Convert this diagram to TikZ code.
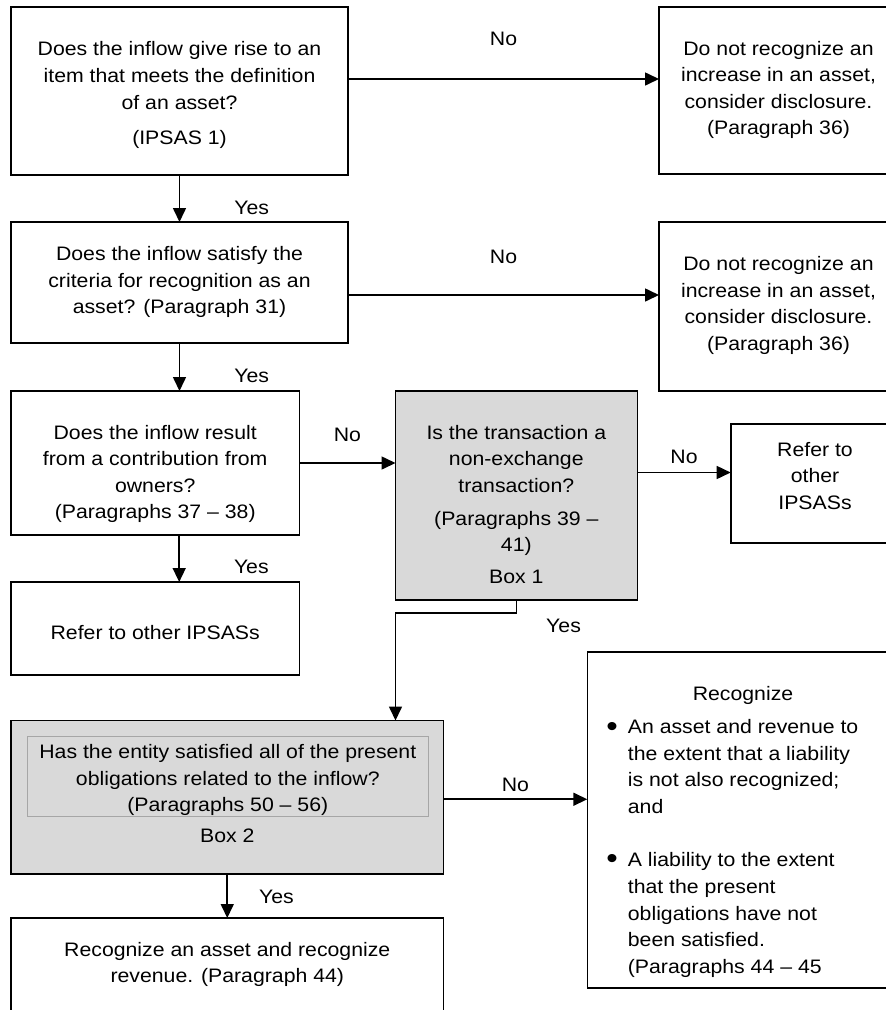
\documentclass[tikz,border=0pt]{standalone}
\usepackage{fontspec}
\setmainfont{Liberation Sans}[FakeStretch=1.09]
\usetikzlibrary{arrows.meta,positioning}
\definecolor{boxgray}{HTML}{D9D9D9}
\definecolor{rimgray}{HTML}{A6A6A6}
\newcommand\flowfont{\fontsize{19.5}{26.6}\selectfont}
\tikzset{
  box/.style={draw, line width=1.6pt, anchor=north west, inner sep=0pt, outer sep=0pt},
  txt/.style={font=\flowfont, align=center, inner sep=0pt},
  lbl/.style={font=\flowfont, inner sep=0pt},
  dot/.style={font=\fontsize{30}{30}\selectfont, inner sep=0pt, anchor=base},
  flow/.style={-{Triangle[length=14pt,width=13pt]}, line width=1.6pt},
}
\begin{document}
\begin{tikzpicture}[x=1pt, y=-1pt]
    \useasboundingbox (0,0) rectangle (886,1010);
    \clip (0,0) rectangle (886,1010);
    % boxes
    \node[box, minimum width=337pt, minimum height=168pt] (defbox) at (11,7) {};
    \node[box, minimum width=260pt, minimum height=167pt] (nodefa) at (659,7) {};
    \node[box, minimum width=337pt, minimum height=121pt] (critbox) at (11,222) {};
    \node[box, minimum width=260pt, minimum height=169pt] (nodefb) at (659,222) {};
    \node[box, minimum width=288.4pt, minimum height=144pt] (ownbox) at (11,391) {};
    \node[box, fill=boxgray, minimum width=241.8pt, minimum height=209pt] (nxbox) at (395.5,391) {};
    \node[box, minimum width=200pt, minimum height=119pt] (otherbox) at (730.7,424) {};
    \node[box, minimum width=288.4pt, minimum height=93pt] (refbox) at (11,582) {};
    \node[box, fill=boxgray, minimum width=432.5pt, minimum height=153.5pt] (presbox) at (11,720.5) {};
    \node[box, draw=rimgray, line width=1pt, fill=boxgray, minimum width=400.3pt, minimum height=80pt] (presq) at (27.7,736.7) {};
    \node[box, minimum width=320pt, minimum height=336.3pt] (recbox) at (587.3,651.7) {};
    \node[box, minimum width=432.5pt, minimum height=120pt] (revbox) at (11,918) {};
    % texts
    \node[txt] (deftext) at (179.5,95) {Does the inflow give rise to an\\item that meets the definition\\of an asset?\\[8.4pt](IPSAS 1)};
    \node[txt] (nodefatext) at (778.5,90) {Do not recognize an\\increase in an asset,\\consider disclosure.\\(Paragraph 36)};
    \node[txt] (crittext) at (179.5,282) {Does the inflow satisfy the\\criteria for recognition as an\\asset? (Paragraph 31)};
    \node[txt] (nodefbtext) at (778.5,305.5) {Do not recognize an\\increase in an asset,\\consider disclosure.\\(Paragraph 36)};
    \node[txt] (owntext) at (155.2,474) {Does the inflow result\\from a contribution from\\owners?\\(Paragraphs 37 – 38)};
    \node[txt] (nxtext) at (516.3,504.5) {Is the transaction a\\non-exchange\\transaction?\\[6.4pt](Paragraphs 39 –\\41)\\[5.4pt]Box 1};
    \node[txt] (othertext) at (815,476) {Refer to\\other\\IPSASs};
    \node[txt] (reftext) at (155.2,633) {Refer to other IPSASs};
    \node[txt] (prestext) at (227.8,780) {Has the entity satisfied all of the present\\obligations related to the inflow?\\(Paragraphs 50 – 56)};
    \node[txt] (boxtwo) at (227.3,836) {Box 2};
    \node[txt] (rechead) at (743,695) {Recognize};
    \node[dot] (dota) at (612,736) {•};
    \node[lbl, align=left, anchor=west] (recitema) at (627.7,766.5) {An asset and revenue to\\the extent that a liability\\is not also recognized;\\and};
    \node[dot] (dotb) at (612,868) {•};
    \node[lbl, align=left, anchor=west] (recitemb) at (627.7,915) {A liability to the extent\\that the present\\obligations have not\\been satisfied.\\(Paragraphs 44 – 45};
    \node[txt] (revtext) at (227.3,964.5) {Recognize an asset and recognize\\revenue. (Paragraph 44)};
    % connectors
    \draw[flow] ([yshift=12pt]defbox.east) -- ([yshift=12pt]defbox.east -| nodefa.west) node[lbl, midway, above=33pt] {No};
    \draw[flow] (defbox.south) -- (critbox.north) node[lbl, pos=0.7, right=54pt] {Yes};
    \draw[flow] ([yshift=-12.5pt]critbox.east) -- ([yshift=-12.5pt]critbox.east -| nodefb.west) node[lbl, midway, above=31pt] {No};
    \draw[flow] (critbox.south) -- (critbox.south |- ownbox.north) node[lbl, pos=0.69, right=54pt] {Yes};
    \draw[flow] (ownbox.east) -- (ownbox.east -| nxbox.west) node[lbl, midway, above=21pt] {No};
    \draw[flow] ([yshift=23pt]nxbox.east) -- ([yshift=23pt]nxbox.east -| otherbox.west) node[lbl, midway, above=8pt] {No};
    \draw[flow] ([xshift=24pt]ownbox.south) -- ([xshift=24pt]refbox.north) node[lbl, pos=0.68, right=54pt] {Yes};
    \draw[flow] (nxbox.south) -- ++(0,13) node[lbl, below right=5pt and 29pt] {Yes} -| (nxbox.west |- presbox.north);
    \draw[flow] ([yshift=-2pt]presbox.east) -- ([yshift=-2pt]presbox.east -| recbox.west) node[lbl, midway, above=7pt] {No};
    \draw[flow] (presbox.south) -- (revbox.north) node[lbl, pos=0.52, right=31pt] {Yes};
\end{tikzpicture}
\end{document}
